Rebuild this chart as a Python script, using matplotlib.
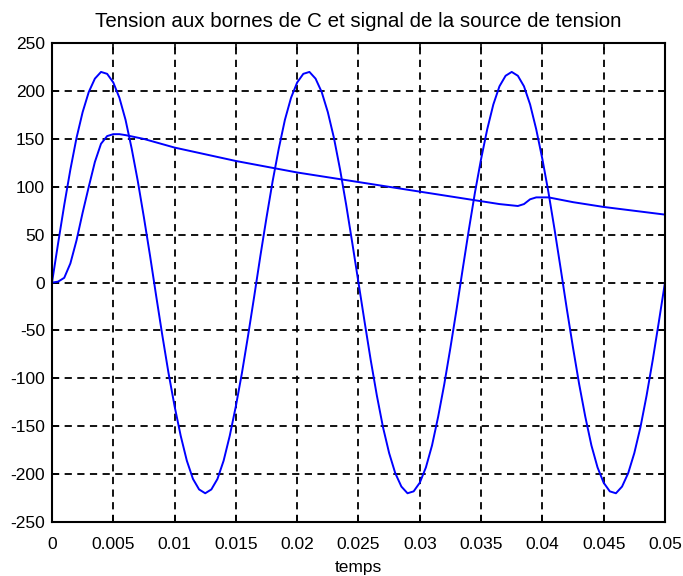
import matplotlib
matplotlib.use("Agg")
import matplotlib.pyplot as plt

plt.rcParams['font.family'] = ['Liberation Sans', 'DejaVu Sans']
plt.rcParams['axes.unicode_minus'] = False

# time base (s) for the source signal, step 0.0005 s
t_source = [i * 0.0005 for i in range(101)]
half_wave = [0, 41, 81, 118, 151, 178, 199, 213, 220, 218, 209, 193, 170, 140, 106, 68, 28,
             -14, -55, -94, -129, -160, -186, -205, -216, -220, -216, -205, -186, -160, -129,
             -94, -55, -14, 28, 68, 106, 140, 170, 193, 209, 218, 220, 213, 199, 178, 151,
             118, 81, 41, 0]
v_source = half_wave + [-v for v in half_wave[1:]]

# capacitor voltage
t_cap = [0, 0.0005, 0.001, 0.0015, 0.002, 0.0025, 0.003, 0.0035, 0.004, 0.0045, 0.005,
         0.0055, 0.006, 0.0075, 0.01, 0.0125, 0.015, 0.0175, 0.02, 0.0225, 0.025, 0.0275,
         0.03, 0.0325, 0.035, 0.0365, 0.038, 0.0385, 0.039, 0.0395, 0.0405, 0.0425, 0.045,
         0.0475, 0.05]
v_cap = [0, 1, 5, 20, 44, 73, 100, 126, 145, 153, 155,
         155, 154, 150, 141, 134, 127, 121, 115, 110, 105, 100,
         95, 90, 85, 82, 80, 82, 87, 89, 89, 84, 79,
         75, 71]

x_ticks = [0, 0.005, 0.01, 0.015, 0.02, 0.025, 0.03, 0.035, 0.04, 0.045, 0.05]
x_ticklabels = ['0', '0.005', '0.01', '0.015', '0.02', '0.025', '0.03', '0.035', '0.04', '0.045', '0.05']
y_ticks = [-250, -200, -150, -100, -50, 0, 50, 100, 150, 200, 250]
y_ticklabels = ['-250', '-200', '-150', '-100', '-50', '0', '50', '100', '150', '200', '250']

fig = plt.figure(figsize=(6.83, 5.76), dpi=100)
ax = fig.add_axes([0.0761, 0.09375, 0.8975, 0.83125])

ax.plot(t_source, v_source, color='#0000ff', lw=1.4)
ax.plot(t_cap, v_cap, color='#0000ff', lw=1.4)

ax.set_xlim(0, 0.05)
ax.set_ylim(-250, 250)
ax.set_xticks(x_ticks)
ax.set_xticklabels(x_ticklabels)
ax.set_yticks(y_ticks)
ax.set_yticklabels(y_ticklabels)
ax.tick_params(direction='in', top=True, right=True, length=5, width=1.2, labelsize=12.5)
ax.tick_params(axis='x', pad=10.5)
ax.tick_params(axis='y', pad=5)
ax.grid(True, color='black', linestyle=(0, (4, 3)), linewidth=1.3)
for s in ax.spines.values():
    s.set_linewidth(1.5)

ax.set_title('Tension aux bornes de C et signal de la source de tension', fontsize=14.8, pad=12)
ax.set_xlabel('temps', fontsize=12.5, labelpad=6)

fig.savefig('out.png', dpi=100)
